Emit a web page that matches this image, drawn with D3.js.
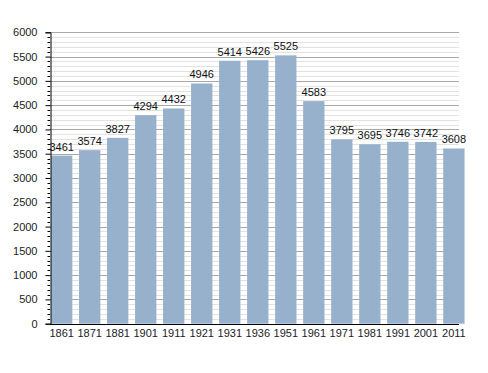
<!DOCTYPE html>
<html><head><meta charset="utf-8">
<script src="https://cdn.jsdelivr.net/npm/d3@7"></script>
<style>body{margin:0;background:#fff}svg{display:block}text{font-family:"Liberation Sans",Arial,sans-serif}</style>
</head><body>
<svg id="c" width="488" height="373"></svg>
<script>
const years = ["1861","1871","1881","1901","1911","1921","1931","1936","1951","1961","1971","1981","1991","2001","2011"];
const population = [3461,3574,3827,4294,4432,4946,5414,5426,5525,4583,3795,3695,3746,3742,3608];
const yTicks = [0,500,1000,1500,2000,2500,3000,3500,4000,4500,5000,5500,6000];

(function(){
const svg = d3.select("#c");
const mLeft = 50, mRight = 459, mTop = 32.3, mBottom = 323.7;
const y = d3.scaleLinear().domain([0,6000]).range([mBottom, mTop]);
const step = 27.57, bw = 21;
const x = d3.scaleBand().domain(years).range([51, 51 + step*years.length]).paddingInner(1 - bw/step).paddingOuter(0).align(0);

const minor = d3.range(100, 6001, 100).filter(v => v % 500 !== 0);
svg.append("g").selectAll("line").data(minor).join("line")
  .attr("x1", mLeft).attr("x2", mRight).attr("y1", d => Math.round(y(d))+0.5).attr("y2", d => Math.round(y(d))+0.5)
  .attr("stroke", "#e2e2e2").attr("stroke-width", 1);
svg.append("g").selectAll("line").data(yTicks.filter(v=>v>0)).join("line")
  .attr("x1", mLeft).attr("x2", mRight).attr("y1", d => Math.round(y(d))+0.5).attr("y2", d => Math.round(y(d))+0.5)
  .attr("stroke", "#a8a8a8").attr("stroke-width", 1);

svg.append("g").selectAll("rect").data(population).join("rect")
  .attr("x", (d,i) => x(years[i])).attr("width", x.bandwidth())
  .attr("y", d => y(d)).attr("height", d => mBottom - y(d))
  .attr("fill", "#97b1cd");

svg.append("g").selectAll("text").data(population).join("text")
  .attr("x", (d,i) => x(years[i]) + x.bandwidth()/2).attr("y", d => y(d) - 5)
  .attr("text-anchor", "middle").attr("font-size", 11).attr("fill", "#111")
  .text(d => d);

const yAxis = d3.axisLeft(y).tickValues(yTicks).tickSize(5).tickPadding(8).tickFormat(d3.format("d"));
const gy = svg.append("g").attr("transform", `translate(${mLeft+0.5},0)`).call(yAxis);
gy.select(".domain").attr("stroke", "#000");
gy.selectAll(".tick text").attr("font-size", 11).attr("fill", "#222").style("font-family", '"Liberation Sans",Arial,sans-serif');
const minorTicks = d3.range(0, 6001, 100).filter(v => v % 500 !== 0);
svg.append("g").selectAll("line").data(minorTicks).join("line")
  .attr("x1", mLeft-2.5).attr("x2", mLeft).attr("y1", d => Math.round(y(d))+0.5).attr("y2", d => Math.round(y(d))+0.5)
  .attr("stroke", "#000");

const xAxis = d3.axisBottom(x).tickSize(0).tickPadding(5);
const gx = svg.append("g").attr("transform", `translate(0,${Math.round(mBottom)+0.5})`).call(xAxis);
gx.select(".domain").remove();
gx.selectAll(".tick text").attr("font-size", 11).attr("fill", "#222").style("font-family", '"Liberation Sans",Arial,sans-serif');
svg.append("line").attr("x1", mLeft).attr("x2", mRight).attr("y1", Math.round(mBottom)+0.5).attr("y2", Math.round(mBottom)+0.5).attr("stroke", "#000");
})();
</script>
</body></html>
